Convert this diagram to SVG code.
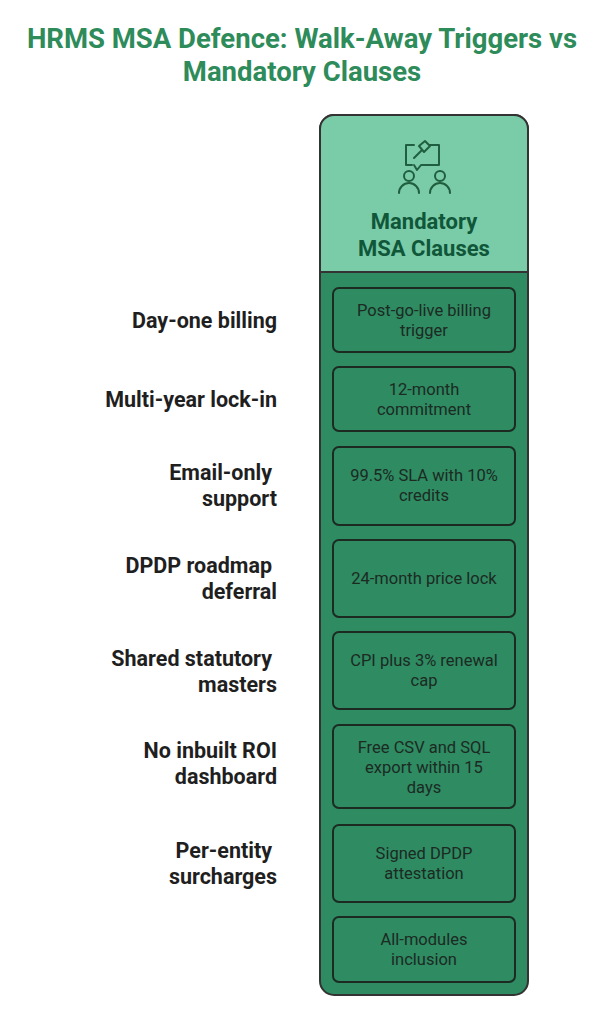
<svg xmlns="http://www.w3.org/2000/svg" width="604" height="1024" viewBox="0 0 604 1024">
<style>
text{font-family:Roboto,"Liberation Sans",sans-serif}
.t{font-size:27.5px;font-weight:bold;fill:#2e8b5a;text-anchor:middle}
.l{font-size:21.5px;font-weight:bold;fill:#1f1f1f;text-anchor:end}
.b{fill:#2e8b62;stroke:#1c2a22;stroke-width:2}
.bt{font-size:16.5px;fill:#1c2a22;text-anchor:middle}
.ic{fill:none;stroke:#1f5e3e;stroke-width:2;stroke-linecap:round;stroke-linejoin:round}
</style>
<rect width="604" height="1024" fill="#fff"/>
<text class="t" x="302" y="48">HRMS MSA Defence: Walk-Away Triggers vs</text>
<text class="t" x="302" y="81">Mandatory Clauses</text>
<g id="column">
<rect x="320" y="115" width="208" height="880" rx="14" fill="#2e8b62" stroke="#333" stroke-width="2"/>
<path d="M320,272 V129 a14,14 0 0 1 14,-14 H514 a14,14 0 0 1 14,14 V272 Z" fill="#7acba8" stroke="#333" stroke-width="2"/>
<g class="ic">
<path d="M412,165 h-6 v-20 h8 M430,145 h9 v20 h-18 l-4,5 l-3,-5"/>
<path d="M414,158 l8,-8 M419,146 l6,-5 l5,5 l-6,6 Z"/>
<circle cx="409" cy="176" r="5"/><path d="M399,193 a10,10 0 0 1 20,0"/>
<circle cx="440" cy="176" r="5"/><path d="M430,193 a10,10 0 0 1 20,0"/>
</g>
<text x="424" y="229" font-size="22" font-weight="bold" fill="#10573a" text-anchor="middle">Mandatory</text>
<text x="424" y="256" font-size="22" font-weight="bold" fill="#10573a" text-anchor="middle">MSA Clauses</text>
</g>
<g id="c1"><rect class="b" x="333" y="288" width="182" height="64" rx="6"/><text class="bt" x="424" y="316">Post-go-live billing</text><text class="bt" x="424" y="336">trigger</text></g>
<g id="c2"><rect class="b" x="333" y="367" width="182" height="64" rx="6"/><text class="bt" x="424" y="395">12-month</text><text class="bt" x="424" y="415">commitment</text></g>
<g id="c3"><rect class="b" x="333" y="447" width="182" height="78" rx="6"/><text class="bt" x="424" y="481">99.5% SLA with 10%</text><text class="bt" x="424" y="501">credits</text></g>
<g id="c4"><rect class="b" x="333" y="540" width="182" height="77" rx="6"/><text class="bt" x="424" y="584">24-month price lock</text></g>
<g id="c5"><rect class="b" x="333" y="632" width="182" height="77" rx="6"/><text class="bt" x="424" y="666">CPI plus 3% renewal</text><text class="bt" x="424" y="686">cap</text></g>
<g id="c6"><rect class="b" x="333" y="725" width="182" height="83" rx="6"/><text class="bt" x="424" y="753">Free CSV and SQL</text><text class="bt" x="424" y="773">export within 15</text><text class="bt" x="424" y="793">days</text></g>
<g id="c7"><rect class="b" x="333" y="825" width="182" height="77" rx="6"/><text class="bt" x="424" y="859">Signed DPDP</text><text class="bt" x="424" y="879">attestation</text></g>
<g id="c8"><rect class="b" x="333" y="917" width="182" height="65" rx="6"/><text class="bt" x="424" y="945">All-modules</text><text class="bt" x="424" y="965">inclusion</text></g>
<g id="labels">
<text class="l" x="277" y="328">Day-one billing</text>
<text class="l" x="277" y="407">Multi-year lock-in</text>
<text class="l" x="272" y="480">Email-only</text><text class="l" x="277" y="506">support</text>
<text class="l" x="272" y="573">DPDP roadmap</text><text class="l" x="277" y="599">deferral</text>
<text class="l" x="272" y="666">Shared statutory</text><text class="l" x="277" y="692">masters</text>
<text class="l" x="277" y="758">No inbuilt ROI</text><text class="l" x="277" y="784">dashboard</text>
<text class="l" x="272" y="858">Per-entity</text><text class="l" x="277" y="884">surcharges</text>
</g>
</svg>
